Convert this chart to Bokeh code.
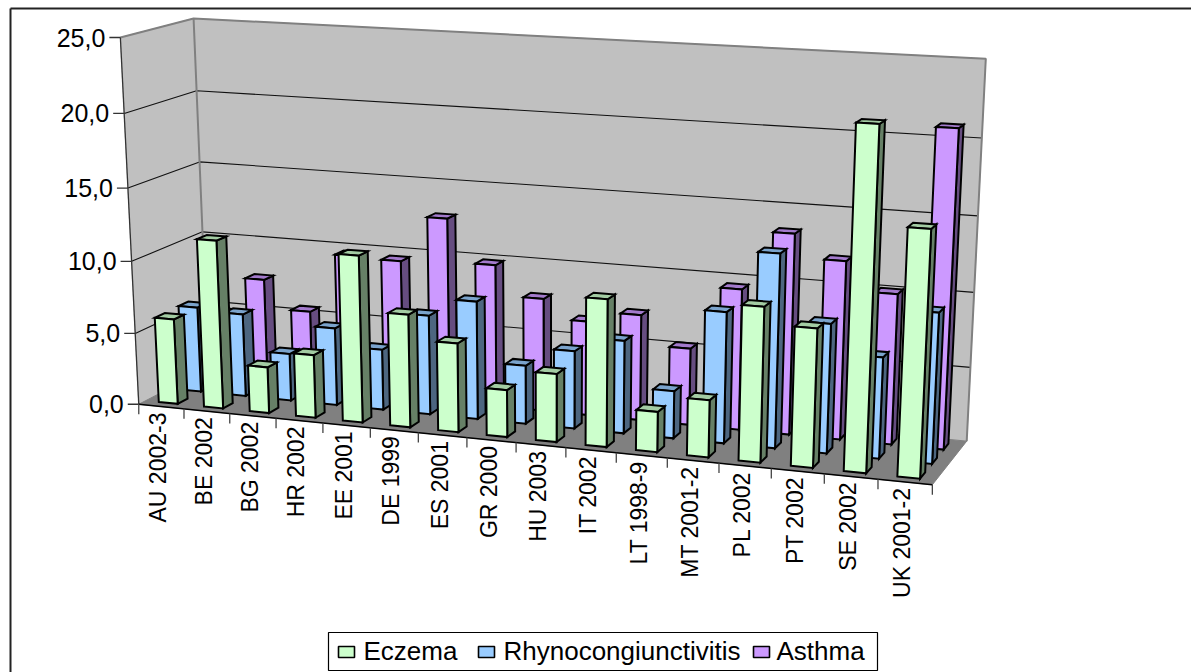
from bokeh.plotting import figure
from bokeh.models import Range1d, ColumnDataSource
from bokeh.core.properties import value
from bokeh.embed import file_html
from bokeh.resources import INLINE
import numpy as np

categories = ["AU 2002-3", "BE 2002", "BG 2002", "HR 2002", "EE 2001", "DE 1999", "ES 2001", "GR 2000",
              "HU 2003", "IT 2002", "LT 1998-9", "MT 2001-2", "PL 2002", "PT 2002", "SE 2002", "UK 2001-2"]
eczema = [5.95, 11.65, 3.2, 4.35, 11.4, 7.7, 6.05, 3.2, 4.6, 9.85, 2.7, 3.8, 10.2, 9.1, 22.1, 15.9]
rhyno = [6.0, 5.8, 3.3, 5.4, 4.2, 6.85, 8.1, 4.0, 5.3, 6.3, 3.2, 8.8, 12.9, 8.6, 6.7, 9.9]
asthma = [4.8, 7.5, 5.5, 9.7, 9.6, 12.8, 9.85, 7.8, 6.5, 7.25, 5.25, 9.55, 13.5, 11.95, 10.05, 20.95]
value_ticks = [0, 5, 10, 15, 20, 25]
value_labels = ["0,0", "5,0", "10,0", "15,0", "20,0", "25,0"]
series_names = ["Eczema", "Rhynocongiunctivitis", "Asthma"]

# calibration of the 3D view: (category, depth, value) -> page pixel
CAL = [((0, 0, 0), (138, 403)), ((0, 0, 25), (120, 38)), ((0, 1, 0), (208, 370)), ((0, 1, 25), (193, 18)),
       ((16, 1, 0), (966, 439)), ((16, 1, 25), (985.7, 58)), ((16, 0, 0), (932, 486)),
       ((0, 1, 10), (202, 231)), ((16, 1, 10), (974, 292)), ((0, 0, 10), (131, 260)),
       ((16, 1, 15), (976.7, 216)), ((0, 1, 20), (196, 89.5)), ((8, 0, 0), (515.7, 441))]
A = []
for (u, d, z), (x, y) in CAL:
    A.append([u, d, z, 1, 0, 0, 0, 0, -x * u, -x * d, -x * z, -x])
    A.append([0, 0, 0, 0, u, d, z, 1, -y * u, -y * d, -y * z, -y])
M = np.linalg.svd(np.array(A, float))[2][-1].reshape(3, 4)


def proj(u, d, z):
    w = M @ np.array([u, d, z, 1.0])
    return w[0] / w[2], -w[1] / w[2]


def poly(pts):
    ps = [proj(*q) for q in pts]
    return [a for a, _ in ps], [b for _, b in ps]


W, H = 1191, 672
p = figure(width=W, height=H, x_range=Range1d(0, W), y_range=Range1d(-H, 0),
           output_backend="svg", toolbar_location=None, min_border=0, outline_line_color=None)
p.axis.visible = False
p.grid.visible = False
p.background_fill_color = "white"
p.border_fill_color = "white"

# chart border (top and left only are inside the picture)
p.line([10, 10], [-H, -8], line_color="#222222", line_width=2)
p.line([10, W], [-8, -8], line_color="#222222", line_width=2)

N = len(categories)
TOP = value_ticks[-1]
WALL = "#C0C0C0"
for pts in ([(0, 0, 0), (0, 1, 0), (0, 1, TOP), (0, 0, TOP)], [(0, 1, 0), (N, 1, 0), (N, 1, TOP), (0, 1, TOP)]):
    xs, ys = poly(pts)
    p.patch(xs, ys, fill_color=WALL, line_color=WALL)
xs, ys = poly([(0, 0, 0), (N, 0, 0), (N, 1, 0), (0, 1, 0)])
p.patch(xs, ys, fill_color="#808080", line_color="#808080")

for t in value_ticks[1:-1]:
    xs, ys = poly([(0, 0, t), (0, 1, t), (N, 1, t)])
    p.line(xs, ys, line_color="#111111", line_width=1.1)
# wall edges
xs, ys = poly([(0, 0, TOP), (0, 1, TOP), (N, 1, TOP), (N, 1, 0)])
p.line(xs, ys, line_color="#808080", line_width=2)
xs, ys = poly([(0, 1, 0), (0, 1, TOP)])
p.line(xs, ys, line_color="#808080", line_width=2)
xs, ys = poly([(0, 0, 0), (0, 0, TOP)])
p.line(xs, ys, line_color="#333333", line_width=1.3)
xs, ys = poly([(0, 0, 0), (N, 0, 0)])
p.line(xs, ys, line_color="black", line_width=1.5)

# bars: back row first, right to left
BW = 0.21
DW = 0.07
rows = [(asthma, 5 / 6, "#CC99FF", "#664D80", "#A37ACC"),
        (rhyno, 0.5, "#99CCFF", "#4D6680", "#7AA3CC"),
        (eczema, 1 / 6, "#CCFFCC", "#668066", "#A3CCA3")]
for vals, dc, front, side, top in rows:
    for i in range(N - 1, -1, -1):
        uc = i + 0.5
        v = vals[i]
        u0, u1, d0, d1 = uc - BW, uc + BW, dc - DW, dc + DW
        faces = [poly([(u1, d0, 0), (u1, d1, 0), (u1, d1, v), (u1, d0, v)]),
                 poly([(u0, d0, v), (u1, d0, v), (u1, d1, v), (u0, d1, v)]),
                 poly([(u0, d0, 0), (u1, d0, 0), (u1, d0, v), (u0, d0, v)])]
        src = ColumnDataSource(dict(xs=[f[0] for f in faces], ys=[f[1] for f in faces], c=[side, top, front]))
        p.patches("xs", "ys", source=src, fill_color="c", line_color="black", line_width=2, line_join="miter")

# value axis ticks and labels
for t, lab in zip(value_ticks, value_labels):
    x, y = proj(0, 0, t)
    p.line([x - 11, x], [y, y], line_color="#333333", line_width=1.3)
    p.text([x - 15], [y], text=[lab], text_font=value("Liberation Sans"), text_font_size="25px",
           text_align="right", text_baseline="middle", text_color="black")

# category ticks and labels
for i in range(N + 1):
    x, y = proj(i, 0, 0)
    p.line([x, x], [y, y - 10], line_color="#444444", line_width=1.3)
for i, lab in enumerate(categories):
    x, y = proj(i, 0, 0)
    x2, y2 = proj(i + 1, 0, 0)
    cx = (x + x2) / 2 - 3
    p.text([cx], [(y + y2) / 2 - 6], text=[lab], text_font=value("Liberation Sans"), text_font_size="23px",
           angle=np.pi / 2, text_align="right", text_baseline="middle", text_color="black")

# legend
LX, LY, LW, LH = 328, 632, 549, 38
p.quad(left=[LX], right=[LX + LW], top=[-LY], bottom=[-LY - LH], fill_color="white", line_color="black", line_width=1.2)
swatches = [("#CCFFCC", 338, 363), ("#99CCFF", 478, 503), ("#CC99FF", 753, 776)]
for (c, sx, tx), name in zip(swatches, series_names):
    p.quad(left=[sx], right=[sx + 16], top=[-LY - 14], bottom=[-LY - 25], fill_color=c, line_color="black", line_width=1.6)
    p.text([tx], [-LY - 18], text=[name], text_font=value("Liberation Sans"), text_font_size="26px",
           text_align="left", text_baseline="middle", text_color="black")

open("out.html", "w").write(file_html(p, INLINE))
